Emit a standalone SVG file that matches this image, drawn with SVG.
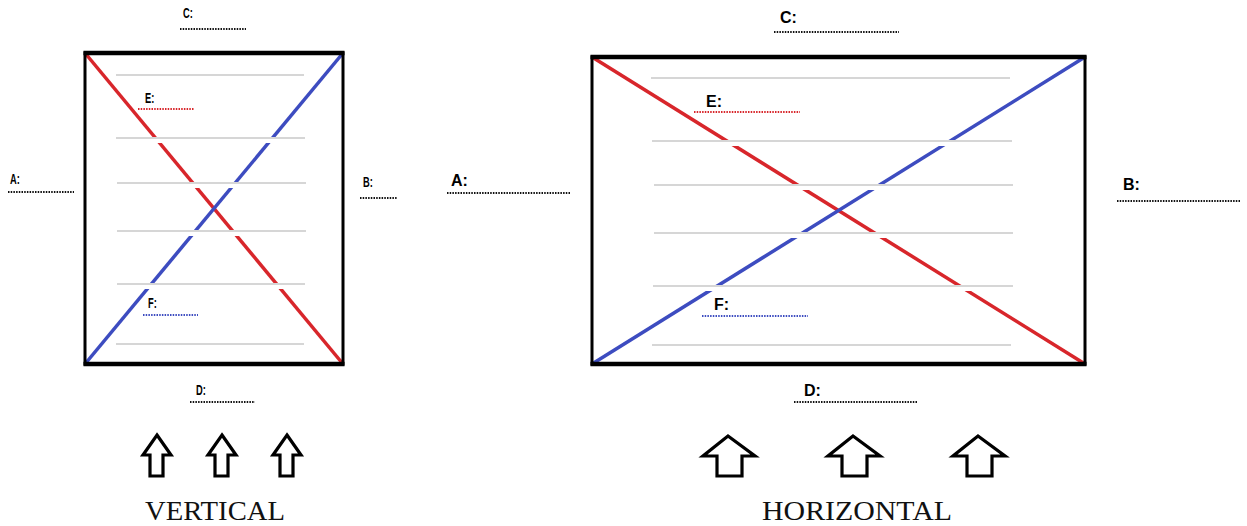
<svg xmlns="http://www.w3.org/2000/svg" width="1247" height="526" viewBox="0 0 1247 526">
<style>
.frame{fill:none;stroke:#000;stroke-width:3}
.edge{stroke:#000;stroke-width:4.5}
.red{stroke:#d8262b;stroke-width:3.5}
.blue{stroke:#3d4cc0;stroke-width:3.5}
.gap{stroke:#fff;stroke-width:6}
.rule{stroke:#c9c9c9;stroke-width:1.3}
.dot{stroke:#111;stroke-width:2;stroke-dasharray:1.5 1.2}
.dotr{stroke:#d8262b;stroke-width:2;stroke-dasharray:1.5 1.2}
.dotb{stroke:#3d4cc0;stroke-width:2;stroke-dasharray:1.5 1.2}
.sl{font-family:"Liberation Sans",Arial,sans-serif;font-weight:bold;font-size:15px;fill:#000}
.bl{font-family:"Liberation Sans",Arial,sans-serif;font-weight:bold;font-size:16px;fill:#000}
.cap{font-family:"Liberation Serif","Times New Roman",serif;font-size:28px;fill:#111}
.arrow{fill:#fff;stroke:#000;stroke-width:3.2;stroke-linejoin:miter}
</style>
<g id="vertical-panel">
  <g id="v-box">
    <line class="red" x1="85" y1="53" x2="343" y2="364"/>
    <line class="blue" x1="343" y1="53" x2="85" y2="364"/>
    <g id="v-rules">
      <line class="gap" x1="116" y1="140" x2="305" y2="140"/>
      <line class="gap" x1="116" y1="185" x2="305" y2="185"/>
      <line class="gap" x1="116" y1="233" x2="305" y2="233"/>
      <line class="gap" x1="116" y1="286" x2="305" y2="286"/>
      <line class="rule" x1="116" y1="75" x2="304" y2="75"/>
      <line class="rule" x1="116" y1="138" x2="305" y2="138"/>
      <line class="rule" x1="117" y1="183" x2="306" y2="183"/>
      <line class="rule" x1="117" y1="231" x2="306" y2="231"/>
      <line class="rule" x1="117" y1="284" x2="305" y2="284"/>
      <line class="rule" x1="116" y1="344" x2="304" y2="344"/>
    </g>
    <rect class="frame" x="85" y="53" width="258" height="311"/>
    <line class="edge" x1="83.5" y1="53" x2="344.5" y2="53"/>
    <line class="edge" x1="83.5" y1="364" x2="344.5" y2="364"/>
  </g>
  <g id="v-label-C">
    <text class="sl" x="183" y="18" transform="translate(183 0) scale(0.62 1) translate(-183 0)">C:</text>
    <line class="dot" x1="180" y1="29" x2="246" y2="29"/>
  </g>
  <g id="v-label-E">
    <text class="sl" x="145" y="103" transform="translate(145 0) scale(0.62 1) translate(-145 0)">E:</text>
    <line class="dotr" x1="138" y1="109" x2="194" y2="109"/>
  </g>
  <g id="v-label-A">
    <text class="sl" x="10" y="184" transform="translate(10 0) scale(0.62 1) translate(-10 0)">A:</text>
    <line class="dot" x1="8" y1="192" x2="74" y2="192"/>
  </g>
  <g id="v-label-B">
    <text class="sl" x="363" y="187" transform="translate(363 0) scale(0.62 1) translate(-363 0)">B:</text>
    <line class="dot" x1="360" y1="198" x2="397" y2="198"/>
  </g>
  <g id="v-label-F">
    <text class="sl" x="148" y="308" transform="translate(148 0) scale(0.62 1) translate(-148 0)">F:</text>
    <line class="dotb" x1="143" y1="315" x2="198" y2="315"/>
  </g>
  <g id="v-label-D">
    <text class="sl" x="196" y="395" transform="translate(196 0) scale(0.62 1) translate(-196 0)">D:</text>
    <line class="dot" x1="190" y1="402" x2="255" y2="402"/>
  </g>
  <g id="v-arrows">
    <path class="arrow" d="M157 435 L171 455 L163 455 L163 476 L150 476 L150 455 L143 455 Z"/>
    <path class="arrow" d="M222 435 L236 455 L228 455 L228 476 L215 476 L215 455 L208 455 Z"/>
    <path class="arrow" d="M287 435 L301 455 L293 455 L293 476 L280 476 L280 455 L273 455 Z"/>
  </g>
  <text id="v-caption" class="cap" x="145" y="520" textLength="140" lengthAdjust="spacingAndGlyphs">VERTICAL</text>
</g>
<g id="horizontal-panel">
  <g id="h-box">
    <line class="red" x1="592" y1="57" x2="1085" y2="364"/>
    <line class="blue" x1="1085" y1="57" x2="592" y2="364"/>
    <g id="h-rules">
      <line class="gap" x1="653" y1="143" x2="1013" y2="143"/>
      <line class="gap" x1="653" y1="187" x2="1013" y2="187"/>
      <line class="gap" x1="653" y1="235" x2="1013" y2="235"/>
      <line class="gap" x1="653" y1="288" x2="1013" y2="288"/>
      <line class="rule" x1="651" y1="78" x2="1010" y2="78"/>
      <line class="rule" x1="652" y1="141" x2="1012" y2="141"/>
      <line class="rule" x1="654" y1="185" x2="1013" y2="185"/>
      <line class="rule" x1="654" y1="233" x2="1013" y2="233"/>
      <line class="rule" x1="653" y1="286" x2="1013" y2="286"/>
      <line class="rule" x1="652" y1="345" x2="1011" y2="345"/>
    </g>
    <rect class="frame" x="592" y="57" width="493" height="307"/>
    <line class="edge" x1="590.5" y1="57" x2="1086.5" y2="57"/>
    <line class="edge" x1="590.5" y1="364" x2="1086.5" y2="364"/>
  </g>
  <g id="h-label-C">
    <text class="bl" x="780" y="23">C:</text>
    <line class="dot" x1="774" y1="32" x2="899" y2="32"/>
  </g>
  <g id="h-label-E">
    <text class="bl" x="706" y="107">E:</text>
    <line class="dotr" x1="694" y1="112" x2="800" y2="112"/>
  </g>
  <g id="h-label-A">
    <text class="bl" x="451" y="186">A:</text>
    <line class="dot" x1="447" y1="193" x2="570" y2="193"/>
  </g>
  <g id="h-label-B">
    <text class="bl" x="1123" y="190">B:</text>
    <line class="dot" x1="1117" y1="201" x2="1240" y2="201"/>
  </g>
  <g id="h-label-F">
    <text class="bl" x="714" y="310">F:</text>
    <line class="dotb" x1="702" y1="316" x2="808" y2="316"/>
  </g>
  <g id="h-label-D">
    <text class="bl" x="804" y="396">D:</text>
    <line class="dot" x1="794" y1="402" x2="917" y2="402"/>
  </g>
  <g id="h-arrows">
    <path class="arrow" d="M728 436 L755 456 L742 456 L742 476 L717 476 L717 456 L703 456 Z"/>
    <path class="arrow" d="M853 436 L880 456 L867 456 L867 476 L842 476 L842 456 L828 456 Z"/>
    <path class="arrow" d="M978 436 L1005 456 L992 456 L992 476 L967 476 L967 456 L953 456 Z"/>
  </g>
  <text id="h-caption" class="cap" x="762" y="520" textLength="190" lengthAdjust="spacingAndGlyphs">HORIZONTAL</text>
</g>
</svg>
